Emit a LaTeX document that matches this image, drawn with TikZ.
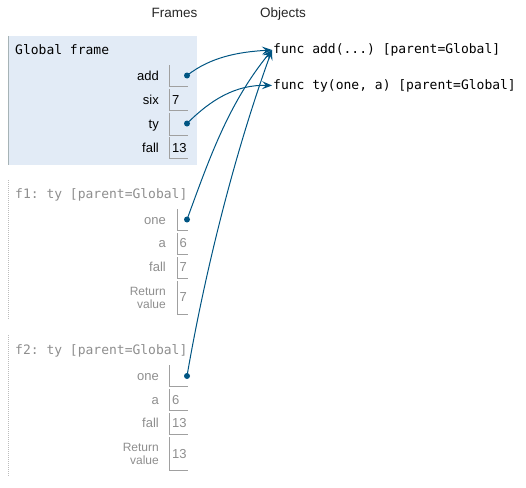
\documentclass[tikz,border=0pt]{standalone}
\usepackage{fontspec}
\setmainfont{Liberation Sans}
\setmonofont{DejaVu Sans Mono}
\usetikzlibrary{arrows.meta}
\definecolor{ptrblue}{HTML}{005583}
\definecolor{framebg}{HTML}{E2EBF6}
\definecolor{frameedge}{HTML}{A6B3B6}
\definecolor{dimtext}{HTML}{8E8E8E}
\definecolor{celledge}{HTML}{A0A0A0}

\begin{document}
\begin{tikzpicture}[x=1pt,y=1pt,
	every node/.style={inner sep=0pt},
	colhead/.style={anchor=base,font=\fontsize{13.5}{16}\selectfont,text=black!85},
	ftitle/.style={anchor=base west,font=\ttfamily\fontsize{13}{15}\selectfont},
	vname/.style={anchor=base east,font=\fontsize{13}{15}\selectfont},
	vval/.style={anchor=base west,font=\fontsize{13}{15}\selectfont},
	retname/.style={anchor=east,align=right,font=\fontsize{12}{13}\selectfont},
	dim/.style={text=dimtext},
	cell/.style={draw=celledge,line width=1pt},
	ptr/.style={circle,fill=ptrblue,minimum size=6pt},
	funcobj/.style={anchor=west,inner sep=1pt,font=\ttfamily\fontsize{13}{15}\selectfont},
	ref/.style={draw=ptrblue,line width=1pt,-{Stealth[length=10pt,width=8pt,inset=4pt]}}]
	\useasboundingbox (0,0) rectangle (526,-487);
	\node[colhead] (hFrames) at (174.5,-18) {Frames};
	\node[colhead] (hObjects) at (283,-18) {Objects};
	\fill[framebg] (8,-36) rectangle (197,-165);
	\draw[frameedge,line width=1pt] (8.5,-36) -- (8.5,-165);
	\node[ftitle] (gTitle) at (15,-54) {Global frame};
	\node[vname] (nAdd) at (159,-80) {add};
	\draw[cell] (169,-65) |- (188,-86);
	\node[ptr] (dAdd) at (187,-75.5) {};
	\node[vname] (nSix) at (159,-104) {six};
	\draw[cell] (169,-89) |- (188,-110);
	\node[vval] (vSix) at (172,-104) {7};
	\node[vname] (nTy) at (159,-128) {ty};
	\draw[cell] (169,-113) |- (188,-135);
	\node[ptr] (dTy) at (187,-123.5) {};
	\node[vname] (nFall) at (159,-152) {fall};
	\draw[cell] (169,-137) |- (188,-158);
	\node[vval] (vFall) at (172,-152) {13};
	\draw[celledge!70,line width=1pt,dash pattern=on 1pt off 1pt] (8.5,-180) -- (8.5,-320);
	\node[ftitle,dim] (tOne) at (15,-198.3) {f1: ty [parent=Global]};
	\node[vname,dim] (nOneOne) at (166,-224) {one};
	\draw[cell] (177,-209) |- (188,-230);
	\node[ptr] (dOneOne) at (187,-219.5) {};
	\node[vname,dim] (nOneA) at (166,-247.3) {a};
	\draw[cell] (177,-233) |- (188,-254);
	\node[vval,dim] (vOneA) at (179.5,-247.3) {6};
	\node[vname,dim] (nOneFall) at (166,-271.5) {fall};
	\draw[cell] (177,-257) |- (188,-278);
	\node[vval,dim] (vOneFall) at (179.5,-271.5) {7};
	\node[retname,dim] (nOneRet) at (166,-297.5) {Return\\value};
	\draw[cell] (177,-281) |- (188,-314);
	\node[vval,dim] (vOneRet) at (179.5,-301.7) {7};
	\draw[celledge!70,line width=1pt,dash pattern=on 1pt off 1pt] (8.5,-335) -- (8.5,-477);
	\node[ftitle,dim] (tTwo) at (15,-354.3) {f2: ty [parent=Global]};
	\node[vname,dim] (nTwoOne) at (159,-380) {one};
	\draw[cell] (169,-365) |- (188,-386);
	\node[ptr] (dTwoOne) at (187,-376) {};
	\node[vname,dim] (nTwoA) at (159,-404) {a};
	\draw[cell] (169,-389) |- (188,-410);
	\node[vval,dim] (vTwoA) at (172,-404) {6};
	\node[vname,dim] (nTwoFall) at (159,-427.7) {fall};
	\draw[cell] (169,-413) |- (188,-434);
	\node[vval,dim] (vTwoFall) at (172,-427.7) {13};
	\node[retname,dim] (nTwoRet) at (159,-453.5) {Return\\value};
	\draw[cell] (169,-437) |- (188,-470);
	\node[vval,dim] (vTwoRet) at (172,-458.3) {13};
	\node[funcobj] (fnAdd) at (272,-50) {func add(...) [parent=Global]};
	\node[funcobj] (fnTy) at (272,-85.5) {func ty(one, a) [parent=Global]};
	\draw[ref] (dAdd.center) .. controls +(23,18) and +(-35,-2) .. (fnAdd.west);
	\draw[ref] (dTy.center) .. controls +(23,23) and +(-37,1) .. (fnTy.west);
	\draw[ref] (dOneOne.center) .. controls +(22,60) and +(-44,-54) .. (fnAdd.west);
	\draw[ref] (dTwoOne.center) .. controls +(19,110) and +(-36,-99) .. (fnAdd.west);
\end{tikzpicture}
\end{document}
